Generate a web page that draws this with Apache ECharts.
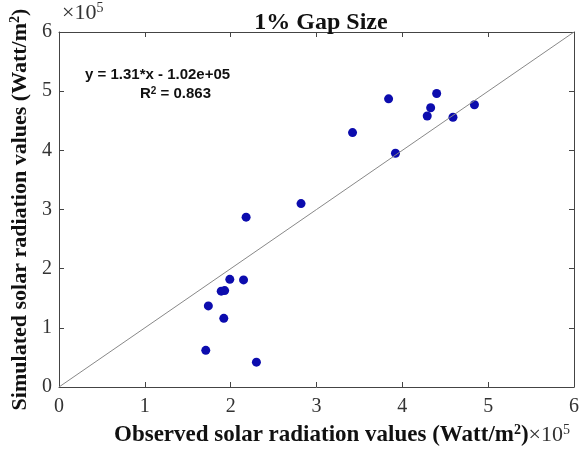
<!DOCTYPE html>
<html><head><meta charset="utf-8">
<script src="https://cdn.jsdelivr.net/npm/echarts@6/dist/echarts.min.js"></script>
<style>html,body{margin:0;padding:0;background:#fff}#c{width:582px;height:454px}</style>
</head><body><div id="c"></div>
<script>
// Observed values (x 1e5 W/m^2)
var observed = [3.84, 4.40, 4.33, 4.29, 4.84, 4.59, 3.42, 3.92, 2.82, 2.18, 1.99, 2.15, 1.89, 1.93, 1.74, 1.92, 1.71, 2.30];
// Simulated values (x 1e5 W/m^2)
var simulated = [4.87, 4.96, 4.72, 4.58, 4.77, 4.56, 4.30, 3.95, 3.10, 2.87, 1.82, 1.81, 1.62, 1.63, 1.37, 1.16, 0.62, 0.42];
var refLine = [[0, 0], [6, 6]];
var ticks = [0, 1, 2, 3, 4, 5, 6];
var fitText = 'y = 1.31*x - 1.02e+05';
var r2Text = '0.863';

var pts = observed.map(function (v, i) { return [v, simulated[i]]; });
var serif = 'Liberation Serif';
var chart = echarts.init(document.getElementById('c'), null, {renderer: 'canvas'});
function axis(pos, showLabel, margin) {
  return {
    type: 'value', min: 0, max: 6, interval: 1, position: pos,
    axisLine: {show: true, onZero: false, lineStyle: {color: '#444', width: 1}},
    axisTick: {show: true, inside: true, length: 5, lineStyle: {color: '#444', width: 1}},
    splitLine: {show: false},
    axisLabel: showLabel ? {show: true, fontFamily: serif, fontSize: 20, color: '#333', margin: margin,
      formatter: function (v) { return ticks.indexOf(v) >= 0 ? String(v) : ''; }} : {show: false}
  };
}
var xb = axis('bottom', true, 10);
var xt = axis('top', false, 0);
var yl = axis('left', true, 7);
var yr = axis('right', false, 0);
yl.name = '{b|Simulated solar radiation values (Watt/m}{sb|2}{b|)}';
yl.nameLocation = 'middle';
yl.nameGap = 25;
yl.nameRotate = 90;
yl.nameTextStyle = {
  rich: {
    b: {fontFamily: serif, fontWeight: 'bold', fontSize: 22, color: '#111'},
    sb: {fontFamily: serif, fontWeight: 'bold', fontSize: 14, color: '#111', verticalAlign: 'top', padding: [0, 0, 10, 0]}
  }
};
chart.setOption({
  animation: false,
  backgroundColor: '#fff',
  grid: {left: 59, right: 7, top: 32, bottom: 67},
  title: {
    text: '1% Gap Size', left: 316, top: 6, textAlign: 'center',
    textStyle: {fontFamily: serif, fontWeight: 'bold', fontSize: 24, color: '#111'}
  },
  xAxis: [xb, xt],
  yAxis: [yl, yr],
  graphic: [
    {type: 'text', left: 62, top: 1, style: {
      text: '{r|\u00d710}{s|5}',
      rich: {r: {fontFamily: serif, fontSize: 22, fill: '#333'}, s: {fontFamily: serif, fontSize: 14, fill: '#333', verticalAlign: 'top', padding: [0, 0, 10, 0]}}
    }},
    {type: 'text', x: 342, y: 435, style: {
      text: '{b|Observed solar radiation values (Watt/m}{sb|2}{b|)}{r|\u00d710}{s|5}',
      align: 'center', verticalAlign: 'middle',
      rich: {
        b: {fontFamily: serif, fontWeight: 'bold', fontSize: 23, fill: '#111'},
        sb: {fontFamily: serif, fontWeight: 'bold', fontSize: 14, fill: '#111', verticalAlign: 'top', padding: [0, 0, 10, 0]},
        r: {fontFamily: serif, fontSize: 22, fill: '#333'},
        s: {fontFamily: serif, fontSize: 14, fill: '#333', verticalAlign: 'top', padding: [0, 0, 10, 0]}
      }
    }},
    {type: 'text', left: 85, top: 67, style: {
      text: fitText, font: 'bold 15px "Liberation Sans"', fill: '#111'
    }},
    {type: 'text', left: 140, top: 86, style: {
      text: '{t|R}{s|2}{t| = ' + r2Text + '}',
      rich: {t: {font: 'bold 15px "Liberation Sans"', fill: '#111'}, s: {font: 'bold 10px "Liberation Sans"', fill: '#111', verticalAlign: 'top', padding: [0, 0, 6, 0]}}
    }}
  ],
  series: [
    {type: 'line', data: refLine, symbol: 'none', lineStyle: {color: '#888', width: 1}, silent: true},
    {type: 'scatter', data: pts, symbol: 'circle', symbolSize: 9, itemStyle: {color: '#0c0cae', opacity: 1}}
  ]
});
</script></body></html>
